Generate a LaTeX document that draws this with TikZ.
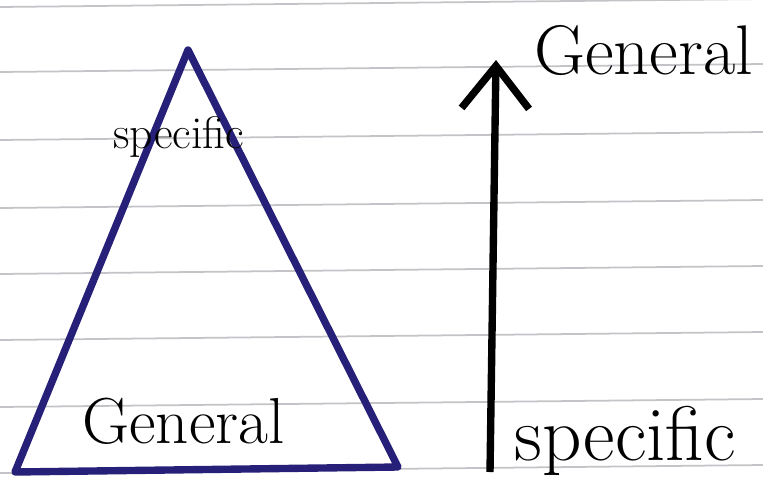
\documentclass[tikz,border=0pt]{standalone}
\usetikzlibrary{arrows.meta}
\definecolor{inkblue}{RGB}{38,32,120}
\definecolor{ruling}{RGB}{195,195,200}
\pgfkeys{tikz/ruleline/.style={ruling,line width=1pt}}
\pgfkeys{tikz/hand/.style={inner sep=0pt,anchor=base west,text=black}}
\tikzset{pyramid/.style={inkblue,line width=4.2pt,line join=round}}

\begin{document}
\begin{tikzpicture}[x=0.02cm,y=-0.02cm]
\useasboundingbox (0,0) rectangle (763,484);

% ruled paper
\foreach \y in {7,72,140,208,274,340,407,473} {
  \draw[ruleline] (0,\y) -- (763,\y-8);
}

% triangle
\coordinate (apex) at (188,50);
\coordinate (baseL) at (15,472);
\coordinate (baseR) at (398,467);
\draw[pyramid] (apex) -- (baseL) -- (baseR) -- cycle;

\node[hand,font=\fontsize{26}{30}\selectfont] (topword) at (113,148) {specific};
\node[hand,font=\fontsize{37}{42}\selectfont] (baseword) at (82,443) {General};

% arrow
\coordinate (foot) at (490,472);
\coordinate (tip) at (496,60);
\draw[line width=4.2pt,-{Straight Barb[length=0.85cm,width=1.35cm,line width=4.2pt]}] (foot) -- (tip);

\node[hand,font=\fontsize{40}{46}\selectfont] (upword) at (534,74) {General};
\node[hand,font=\fontsize{44}{50}\selectfont] (downword) at (514,460) {specific};

\end{tikzpicture}
\end{document}
